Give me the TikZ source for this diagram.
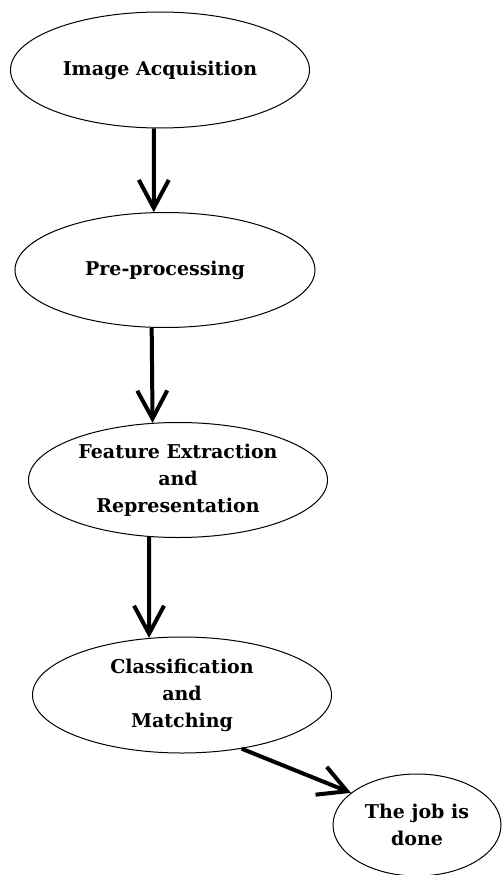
\documentclass[tikz,border=0pt]{standalone}
\usepackage{fontspec}
\setmainfont{DejaVu Serif}
\usepackage{tikz}
\usetikzlibrary{shapes.geometric, arrows.meta}

\begin{document}
\begin{tikzpicture}[
  x=1pt, y=-1pt,
  stage/.style={ellipse, draw=black, line width=1pt, inner sep=0pt, minimum width=299pt, minimum height=116pt, align=center, font=\bfseries\fontsize{19}{27}\selectfont},
  arrow/.style={-{Straight Barb[length=28pt, width=30pt]}, line width=4pt}
]
  \useasboundingbox (0,0) rectangle (502,875);

  \node[stage] (acq) at (160,70) {Image Acquisition};
  \node[stage, minimum width=300pt, minimum height=115pt] (pre) at (165,270) {Pre-processing};
  \node[stage, minimum height=115pt] (feat) at (178,480) {Feature Extraction\\and\\Representation};
  \node[stage] (cls) at (182,695) {Classification\\and\\Matching};
  \node[stage, minimum width=168pt, minimum height=102pt] (done) at (417,825) {The job is\\done};

  \draw[arrow] (acq.264) -- (pre.101);
  \draw[arrow] (pre.257) -- (feat.114);
  \draw[arrow] (feat.243) -- (cls.120);
  \draw[arrow] (cls.318) -- (done.154);
\end{tikzpicture}
\end{document}
